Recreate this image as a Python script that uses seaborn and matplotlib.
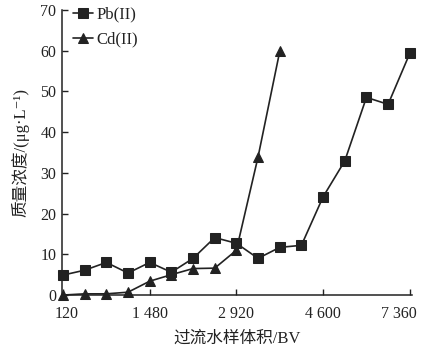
import matplotlib
matplotlib.use("Agg")
import matplotlib.pyplot as plt
import matplotlib.transforms as mtransforms
import seaborn as sns
import numpy as np
import pandas as pd

sns.set_theme(style="ticks")
plt.rcParams['font.family'] = ['Liberation Serif', 'Noto Sans CJK SC', 'DejaVu Sans']
plt.rcParams['axes.unicode_minus'] = False

# Data (sample index along x; tick labels give bed volumes)
pb_values = [4.9, 6.1, 8.0, 5.4, 8.0, 5.6, 9.0, 14.1, 12.7, 9.0, 11.7, 12.2, 24.1, 32.9, 48.5, 46.8, 59.3]
cd_values = [0.0, 0.3, 0.3, 0.7, 3.4, 5.0, 6.5, 6.6, 11.0, 33.9, 59.8]
tick_positions = [0, 4, 8, 12, 16]
tick_labels = ["120", "1 480", "2 920", "4 600", "7 360"]
series_names = ["Pb(II)", "Cd(II)"]

df_pb = pd.DataFrame({"idx": np.arange(len(pb_values)), "val": pb_values})
df_cd = pd.DataFrame({"idx": np.arange(len(cd_values)), "val": cd_values})

fig = plt.figure(figsize=(4.3, 3.5), dpi=100)
ax = fig.add_axes([0.144, 0.157, 0.814, 0.815])

col = "#222222"
sns.lineplot(data=df_pb, x="idx", y="val", ax=ax, color=col, marker="s",
             markersize=7, markeredgecolor=col, linewidth=1.2, label=series_names[0],
             clip_on=False)
sns.lineplot(data=df_cd, x="idx", y="val", ax=ax, color=col, marker="^",
             markersize=7.5, markeredgecolor=col, linewidth=1.2, label=series_names[1],
             clip_on=False)

ax.set_xlim(-0.05, 16.1)
ax.set_ylim(0, 70)
ax.set_yticks(np.arange(0, 71, 10))
ax.set_xticks(tick_positions)
ax.set_xticklabels(tick_labels)
ax.tick_params(direction="in", length=4, width=1, labelsize=11.5, colors=col, pad=4)
ax.tick_params(axis="x", pad=8)
for s in ["top", "right"]:
    ax.spines[s].set_visible(False)
for s in ["left", "bottom"]:
    ax.spines[s].set_color(col)
    ax.spines[s].set_linewidth(1.1)

# shift first and last x tick labels like the reference
xl = ax.get_xticklabels()
xl[0].set_transform(xl[0].get_transform() + mtransforms.ScaledTranslation(4/100, 0, fig.dpi_scale_trans))
xl[-1].set_transform(xl[-1].get_transform() + mtransforms.ScaledTranslation(-11/100, 0, fig.dpi_scale_trans))

ax.set_xlabel("过流水样体积/BV", fontsize=12, color=col, labelpad=6)
ax.set_ylabel("质量浓度/(μg·L⁻¹)", fontsize=12, color=col, labelpad=8)

leg = ax.legend(loc="upper left", bbox_to_anchor=(0.012, 1.035), frameon=False,
                fontsize=12, handlelength=1.2, handletextpad=0.2, labelspacing=0.55,
                borderaxespad=0.0)
for t in leg.get_texts():
    t.set_color(col)

fig.savefig("out.png", dpi=100, facecolor="white")
